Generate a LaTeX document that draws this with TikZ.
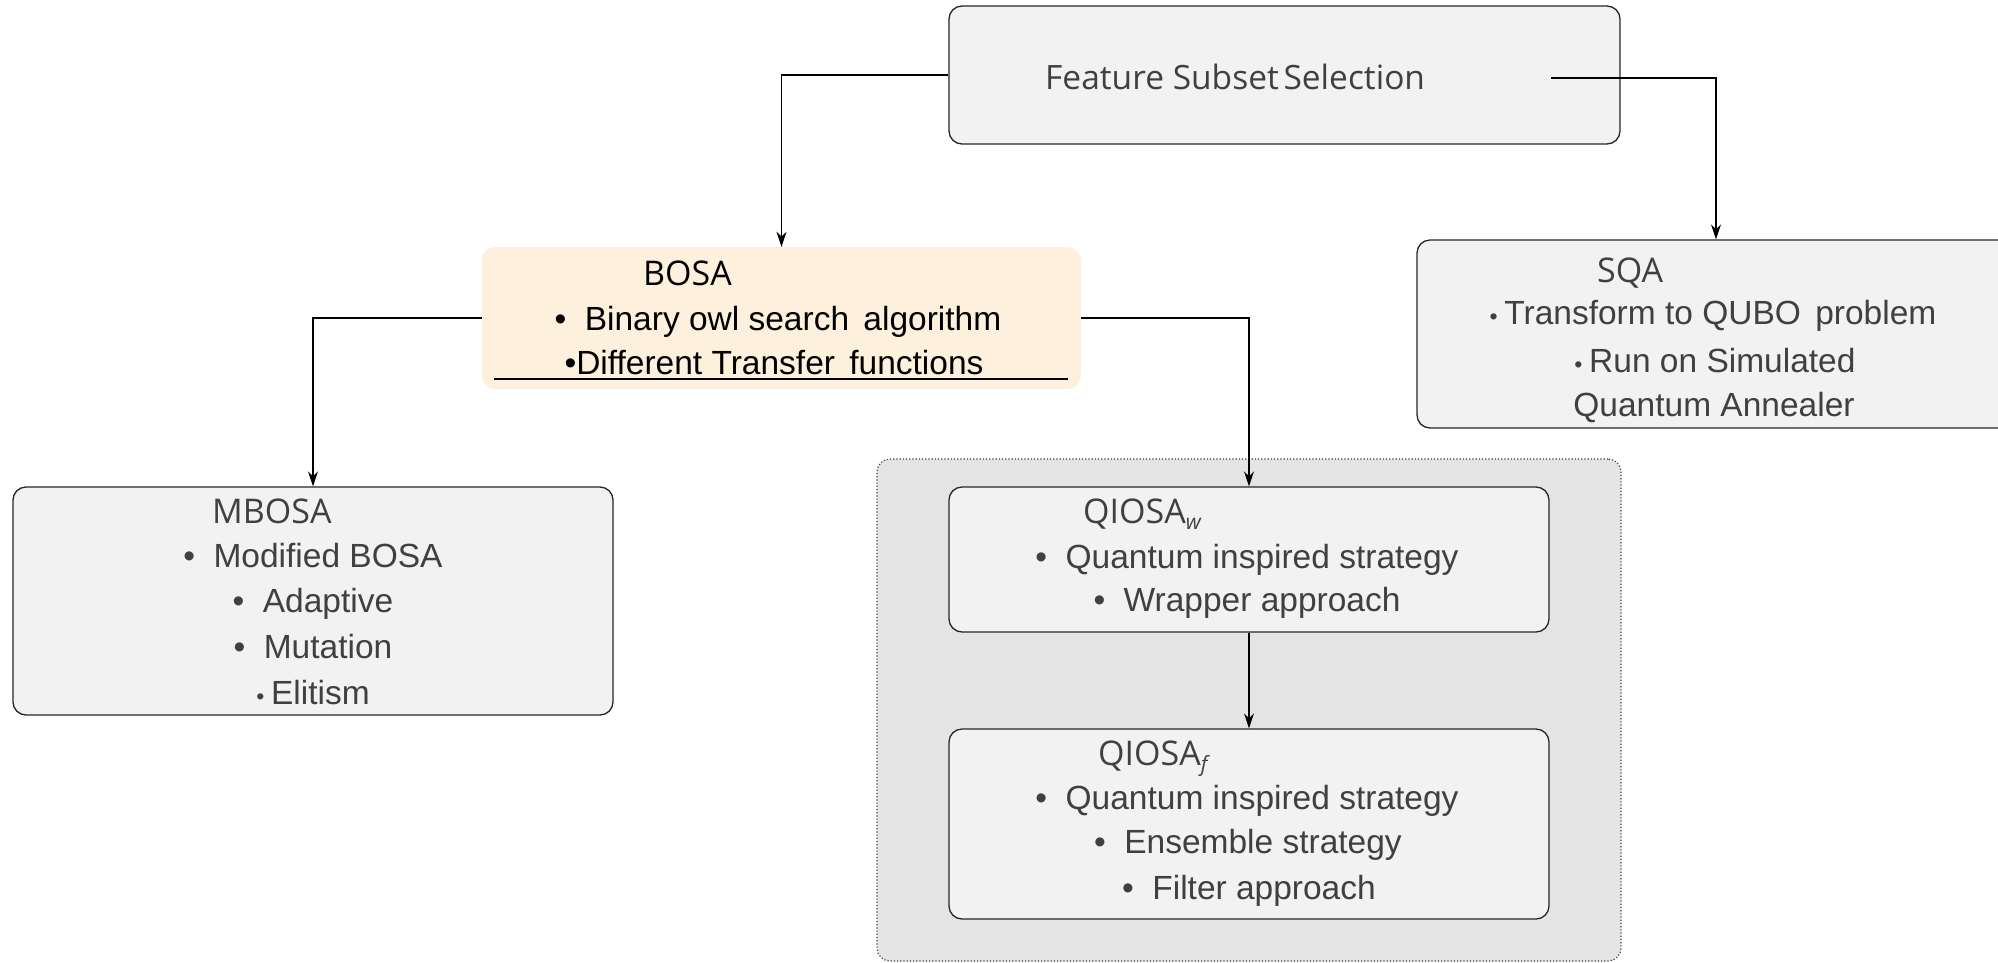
\documentclass[tikz,border=0pt]{standalone}
\usepackage{fontspec}
\setmainfont{Liberation Sans}
\newfontfamily\headfont{Open Sans}
\usetikzlibrary{arrows.meta}
\definecolor{boxfill}{HTML}{F2F2F2}
\definecolor{grpfill}{HTML}{E4E4E4}
\definecolor{creamfill}{HTML}{FDF1DE}
\definecolor{textgray}{HTML}{404040}
\definecolor{edge}{HTML}{262626}
% bullets: a wide one and a small, tight one
\newcommand{\bl}{•\hspace{0.55em}}
\newcommand{\sbl}{{\fontsize{23}{23}\selectfont •}\hspace{0.2em}}
\newcommand{\subit}[1]{\raisebox{-0.2em}{\fontsize{21}{21}\selectfont\itshape #1}}
\begin{document}
\begin{tikzpicture}[x=1pt,y=-1pt,
  box/.style={draw=edge, line width=1.3pt, rounded corners=13pt, fill=boxfill, inner sep=0pt},
  creambox/.style={draw=none, rounded corners=13pt, fill=creamfill, inner sep=0pt},
  grpbox/.style={draw=black!75, dotted, line width=1.2pt, rounded corners=13pt, fill=grpfill, inner sep=0pt},
  conn/.style={line width=1.5pt, draw=black, -{Stealth[length=15pt,width=10pt]}},
  head/.style={font=\headfont\fontsize{34}{34}\selectfont, text=textgray, anchor=base west, inner sep=0pt},
  item/.style={font=\fontsize{33.5}{33.5}\selectfont, text=textgray, anchor=base, inner sep=0pt}]
\useasboundingbox (0,0) rectangle (1998,962);

% group frame around the quantum-inspired variants
\node[grpbox, minimum width=744pt, minimum height=502pt] (grp) at (1249,710) {};

% boxes
\node[box, minimum width=671pt, minimum height=138pt] (fss) at (1284.5,75) {};
\node[creambox, minimum width=599pt, minimum height=142pt] (bosa) at (781.5,318) {};
\node[box, minimum width=598pt, minimum height=188pt] (sqa) at (1716,334) {};
\node[box, minimum width=600pt, minimum height=228pt] (mbosa) at (313,601) {};
\node[box, minimum width=600pt, minimum height=145pt] (qw) at (1249,559.5) {};
\node[box, minimum width=600pt, minimum height=190pt] (qf) at (1249,824) {};

% texts
\node[head, font=\headfont\fontsize{33.5}{33.5}\selectfont] (tfss) at (1045,89) {Feature Subset\hspace{-0.12em} Selection};

\node[head, text=black] (tbosa) at (643,285) {BOSA};
\node[item, text=black] (tbosa1) at (778,330) {\bl Binary owl search\hspace{0.15em} algorithm};
\node[item, text=black] (tbosa2) at (774,374) {•Different Transfer\hspace{0.15em} functions};
\draw[line width=2pt] (494,378.5) -- (1068,378.5);

\node[head] (tsqa) at (1597,282) {SQA};
\node[item] (tsqa1) at (1713,324) {\sbl Transform to QUBO\hspace{0.15em} problem};
\node[item] (tsqa2) at (1715,372) {\sbl Run on Simulated};
\node[item] (tsqa3) at (1714,416) {Quantum Annealer};

\node[head] (tmb) at (212,523) {MBOSA};
\node[item] (tmb1) at (313,567) {\bl Modified BOSA};
\node[item] (tmb2) at (313,612) {\bl Adaptive};
\node[item] (tmb3) at (313,658) {\bl Mutation};
\node[item] (tmb4) at (313,704) {\sbl Elitism};

\node[head] (tqw) at (1083,523) {QIOSA\subit{w}};
\node[item] (tqw1) at (1247,568) {\bl Quantum inspired strategy};
\node[item] (tqw2) at (1247,611) {\bl Wrapper approach};

\node[head] (tqf) at (1098,765) {QIOSA\subit{f}};
\node[item] (tqf1) at (1247,809) {\bl Quantum inspired strategy};
\node[item] (tqf2) at (1248,853) {\bl Ensemble strategy};
\node[item] (tqf3) at (1249,899) {\bl Filter approach};

% connectors
\coordinate (fssR) at (1551,78);
\draw[conn] (fss.west) -| (bosa.north);
\draw[conn] (fssR) -| (sqa.north);
\draw[conn] (bosa.west) -| (mbosa.north);
\draw[conn] (bosa.east) -| (qw.north);
\draw[conn] (qw.south) -- (qf.north);
\end{tikzpicture}
\end{document}
